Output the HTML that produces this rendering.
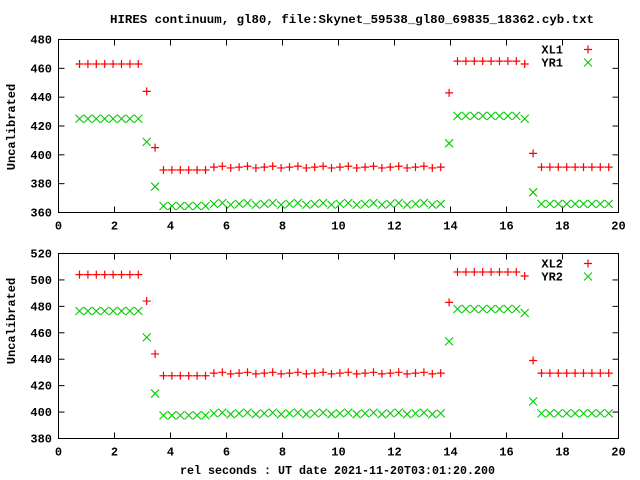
<!DOCTYPE html>
<html><head><meta charset="utf-8"><style>
html,body{margin:0;padding:0;background:#fff;}
svg{display:block;}
text{font-family:"Liberation Mono","DejaVu Sans Mono",monospace;font-size:12px;font-weight:bold;fill:#000;}
</style></head><body>
<svg id="s" width="640" height="480" xmlns="http://www.w3.org/2000/svg">
<text x="110" y="23" textLength="484" lengthAdjust="spacingAndGlyphs">HIRES continuum, gl80, file:Skynet_59538_gl80_69835_18362.cyb.txt</text>
<text x="180" y="474" textLength="315" lengthAdjust="spacingAndGlyphs">rel seconds : UT date 2021-11-20T03:01:20.200</text>
<text transform="translate(15,127) rotate(-90)" text-anchor="middle">Uncalibrated</text>
<text transform="translate(15,321) rotate(-90)" text-anchor="middle">Uncalibrated</text>
</svg>
<script>
const s=document.getElementById('s');const NS='http://www.w3.org/2000/svg';
function el(n,a,t){const e=document.createElementNS(NS,n);for(const k in a)e.setAttribute(k,a[k]);if(t!==undefined)e.textContent=t;s.appendChild(e);return e;}
const X0=58.5,X1=618.5;
function panel(top,bot,ymin,ymax,ystep,A,B,la,lb){
 const sx=v=>X0+(X1-X0)*v/20, sy=v=>bot-(bot-top)*(v-ymin)/(ymax-ymin);
 el('rect',{x:X0,y:top,width:X1-X0,height:bot-top,fill:'none',stroke:'#000','stroke-width':1});
 for(let v=ymin;v<=ymax;v+=ystep){const y=sy(v);
  el('line',{x1:X0,y1:y,x2:X0+6,y2:y,stroke:'#000'});el('line',{x1:X1,y1:y,x2:X1-6,y2:y,stroke:'#000'});
  el('text',{x:52,y:y+4,'text-anchor':'end'},v);}
 for(let v=0;v<=20;v+=2){const x=sx(v);
  el('line',{x1:x,y1:top,x2:x,y2:top+6,stroke:'#000'});el('line',{x1:x,y1:bot,x2:x,y2:bot-6,stroke:'#000'});
  el('text',{x:x,y:bot+17,'text-anchor':'middle'},v);}
 function plus(x,y){el('path',{d:`M${x-4} ${y}h8M${x} ${y-4}v8`,stroke:'#f00','stroke-width':1.2,fill:'none'});}
 function cross(x,y){el('path',{d:`M${x-4} ${y-4}l8 8M${x-4} ${y+4}l8 -8`,stroke:'#0c0','stroke-width':1.1,fill:'none'});}
 for(let i=0;i<64;i++){const x=sx(0.75+0.3*i);plus(x,sy(A(i)));cross(x,sy(B(i)));}
 el('text',{x:563,y:top+14,'text-anchor':'end'},la);plus(588,top+10);
 el('text',{x:563,y:top+27,'text-anchor':'end'},lb);cross(588,top+23);
}
function mk(a,b,c,d,e,f,g,h,last){return i=>{ if(i<8)return a; if(i==8)return b; if(i==9)return c;
 if(i<16)return d; if(i<44)return e+((i*7)%3-1)*0.6; if(i==44)return f; if(i<53)return g; if(i==53)return last; if(i==54)return h; return e;};}
panel(39.5,212.5,360,480,20,mk(463,444,405,389.5,391.5,443,465,401,463),mk(425,409,378,364.5,366,408,427,374,425),'XL1','YR1');
panel(253.5,438.5,380,520,20,mk(504,484,444,427.5,429.5,483,506,439,503),mk(476.5,456.5,414,397.5,399,453.5,478,408,475),'XL2','YR2');
</script>
</body></html>
